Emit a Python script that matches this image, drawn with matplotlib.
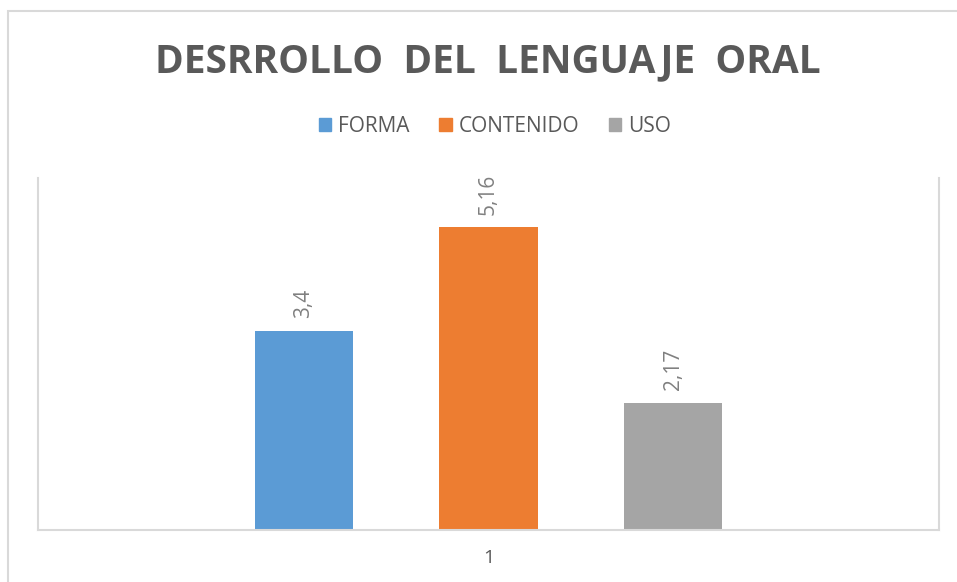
import matplotlib
matplotlib.use("Agg")
import matplotlib.pyplot as plt
from matplotlib.patches import Rectangle, Patch

# data
series = ["FORMA", "CONTENIDO", "USO"]
values = [3.4, 5.16, 2.17]
value_labels = ["3,4", "5,16", "2,17"]
category = ["1"]
colors = ["#5B9BD5", "#ED7D31", "#A5A5A5"]

plt.rcParams['font.family'] = ['Open Sans', 'DejaVu Sans']

W, H = 957, 582
fig = plt.figure(figsize=(W / 100, H / 100), dpi=100)

# outer chart border
fig.patches.append(Rectangle((8 / W, -0.1), 1.2, 1 - 11 / H + 0.1,
                             transform=fig.transFigure, fill=False,
                             edgecolor="#d9d9d9", linewidth=1.5))

ax = fig.add_axes([38 / W, (H - 530) / H, 901 / W, 352 / H])

bar_w = 0.1088
step = 0.2053
for i, (name, v, lab, c) in enumerate(zip(series, values, value_labels, colors)):
    x = 1 + (i - 1) * step
    ax.bar(x, v, width=bar_w, color=c, label=name)
    ax.annotate(lab, (x, v), xytext=(0, 9), textcoords="offset points",
                rotation=90, ha="center", va="bottom",
                fontsize=15, color="#808080")

ax.set_xlim(0.5, 1.5)
ax.set_ylim(0, 6)
ax.set_yticks([])
ax.set_xticks([1])
ax.set_xticklabels(category, fontsize=14, color="#595959")
ax.tick_params(axis="x", length=0, pad=14)
ax.spines["top"].set_visible(False)
for s in ["left", "right", "bottom"]:
    ax.spines[s].set_color("#d9d9d9")
    ax.spines[s].set_linewidth(1.5)

fig.text(488 / W, 1 - 62 / H, "DESRROLLO  DEL  LENGUAJE  ORAL",
         ha="center", va="center", fontsize=28, fontweight="bold",
         color="#595959")

handles = [Patch(color=c) for c in colors]
fig.legend(handles, series, loc="center", bbox_to_anchor=(495 / W, 1 - 126 / H),
           ncol=3, frameon=False, fontsize=15, labelcolor="#595959",
           handlelength=0.6, handleheight=0.6, handletextpad=0.35,
           columnspacing=1.4)

fig.savefig("out.png", dpi=100)
